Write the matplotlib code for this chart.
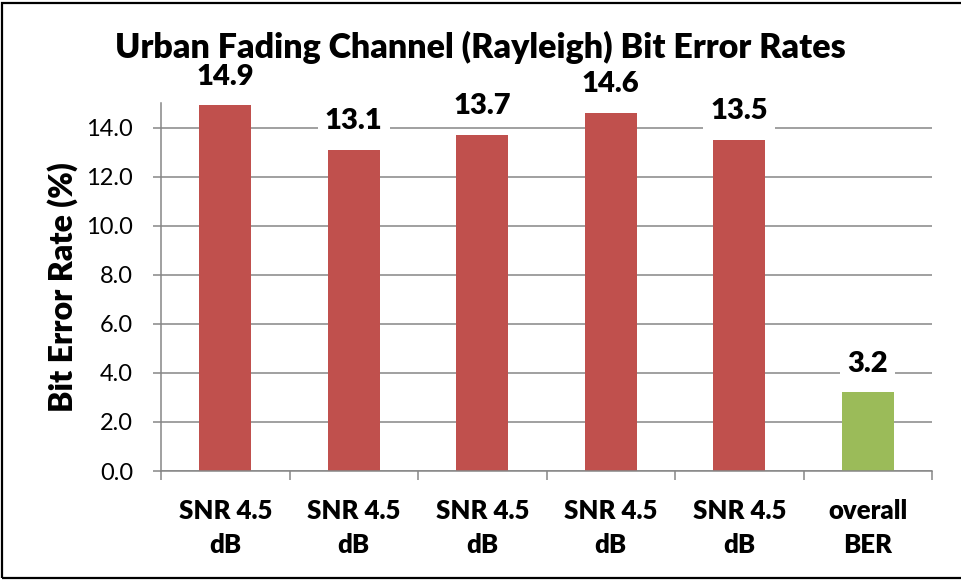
import matplotlib
matplotlib.use("Agg")
from matplotlib import pyplot as plt
from matplotlib.patches import Rectangle
import numpy as np

# data
categories = ["SNR 4.5\ndB", "SNR 4.5\ndB", "SNR 4.5\ndB", "SNR 4.5\ndB", "SNR 4.5\ndB", "overall\nBER"]
ber_values = [14.9, 13.1, 13.7, 14.6, 13.5, 3.2]
bar_colors = ["#C0504D", "#C0504D", "#C0504D", "#C0504D", "#C0504D", "#9BBB59"]
y_ticks = [0, 2, 4, 6, 8, 10, 12, 14]

plt.rcParams['font.family'] = ['Lato', 'DejaVu Sans']
BOLD = 'heavy'

W, H = 961, 581
fig = plt.figure(figsize=(W / 100, H / 100), dpi=100)
ax = fig.add_axes([161 / W, 1 - 471 / H, (932 - 161) / W, (471 - 103) / H])

grey = "#868686"
x = np.arange(len(categories))
ax.bar(x, ber_values, width=0.405, color=bar_colors, zorder=2)

ax.set_xlim(-0.5, len(categories) - 0.5)
ax.set_ylim(0, 15)
ax.set_yticks(y_ticks)
ax.set_yticklabels(["%.1f" % v for v in y_ticks], fontsize=17)
ax.yaxis.grid(True, color=grey, linewidth=1.1, zorder=1)
ax.set_axisbelow(True)

# category labels at centres, tick marks at the boundaries
ax.set_xticks(x)
ax.set_xticklabels(categories, fontsize=18.5, fontweight=BOLD, linespacing=1.5)
ax.set_xticks(np.arange(-0.5, len(categories), 1), minor=True)
ax.tick_params(axis='x', which='major', length=0, pad=20)
ax.tick_params(axis='x', which='minor', length=6.5, width=1.1, color=grey)
ax.tick_params(axis='y', length=6, width=1.1, color=grey, pad=14)

for s in ['top', 'right']:
    ax.spines[s].set_visible(False)
for s in ['left', 'bottom']:
    ax.spines[s].set_color(grey)
    ax.spines[s].set_linewidth(1.1)

ax.set_ylabel("Bit Error Rate (%)", fontsize=23, fontweight=BOLD, labelpad=6)

for xi, v in zip(x, ber_values):
    ax.annotate("%.1f" % v, (xi, v), xytext=(0, 15), textcoords='offset points',
                ha='center', va='baseline', fontsize=21, fontweight=BOLD, zorder=3,
                bbox=dict(boxstyle='square,pad=0.25', fc='white', ec='none'),
                annotation_clip=False)

fig.text(0.5, 1 - 47 / H, "Urban Fading Channel (Rayleigh) Bit Error Rates",
         ha='center', va='center', fontsize=24.5, fontweight=BOLD)

# chart frame
fig.patches.append(Rectangle((2 / W, 3 / H), 1.2, 1 - 6 / H, transform=fig.transFigure,
                             fill=False, ec='black', lw=1.6))

fig.savefig("out.png", dpi=100)
